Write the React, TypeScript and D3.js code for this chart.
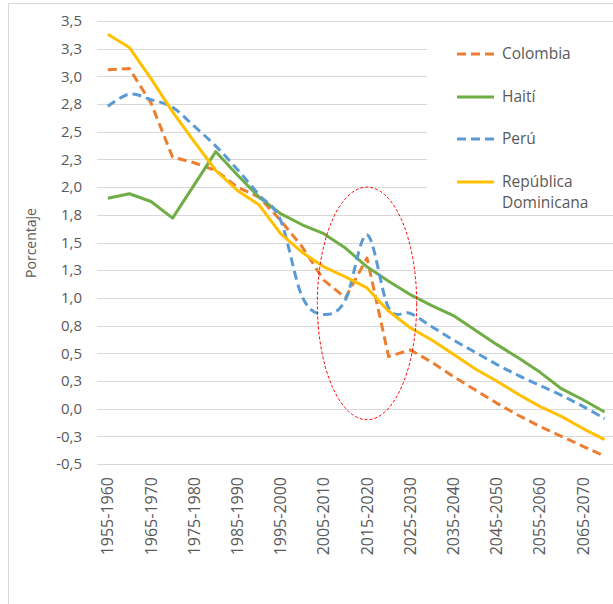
import React from 'react';
import * as d3 from 'd3';

const categories = [
  '1955-1960', '1960-1965', '1965-1970', '1970-1975', '1975-1980', '1980-1985',
  '1985-1990', '1990-1995', '1995-2000', '2000-2005', '2005-2010', '2010-2015',
  '2015-2020', '2020-2025', '2025-2030', '2030-2035', '2035-2040', '2040-2045',
  '2045-2050', '2050-2055', '2055-2060', '2060-2065', '2065-2070', '2070-2075',
];

const colombia = [3.06, 3.07, 2.76, 2.27, 2.22, 2.15, 2.0, 1.91, 1.7, 1.46, 1.16, 1.0,
  1.36, 0.47, 0.53, 0.42, 0.29, 0.17, 0.05, -0.06, -0.16, -0.25, -0.34, -0.43];
const haiti = [1.9, 1.94, 1.87, 1.72, 2.02, 2.32, 2.11, 1.91, 1.76, 1.66, 1.58, 1.45,
  1.28, 1.15, 1.03, 0.93, 0.84, 0.71, 0.58, 0.46, 0.33, 0.18, 0.08, -0.03];
const peru = [2.73, 2.84, 2.79, 2.72, 2.55, 2.37, 2.16, 1.93, 1.7, 1.01, 0.85, 0.98,
  1.57, 0.91, 0.86, 0.74, 0.62, 0.51, 0.4, 0.3, 0.21, 0.12, 0.02, -0.09];
const repDom = [3.38, 3.26, 2.98, 2.68, 2.41, 2.15, 1.97, 1.84, 1.58, 1.41, 1.28, 1.19,
  1.09, 0.88, 0.73, 0.62, 0.49, 0.36, 0.25, 0.13, 0.02, -0.07, -0.18, -0.28];

const yTickValues = [-0.5, -0.25, 0, 0.25, 0.5, 0.75, 1, 1.25, 1.5, 1.75, 2, 2.25, 2.5, 2.75, 3, 3.25, 3.5];
const yTickLabels = ['-0,5', '-0,3', '0,0', '0,3', '0,5', '0,8', '1,0', '1,3', '1,5', '1,8', '2,0', '2,3', '2,5', '2,8', '3,0', '3,3', '3,5'];

const seriesNames = ['Colombia', 'Haití', 'Perú', 'República Dominicana'];
const seriesColors = ['#ED7D31', '#70AD47', '#5B9BD5', '#FFC000'];
const seriesDashed = [true, false, true, false];
const seriesSmooth = [false, false, true, false];

// highlighted region (annotation): centred on 2015-2020, spanning values -0.1 .. 2.0
const highlightCategory = '2015-2020';
const highlightRange = [-0.1, 2.0];
const highlightHalfWidthCats = 2.3;

const W = 613;
const H = 604;
const plotLeft = 97;
const plotRight = 615.4;
const plotTop = 21;
const plotBottom = 464;

export default function App() {
  const data = [colombia, haiti, peru, repDom];
  const x = d3.scalePoint<string>().domain(categories).range([plotLeft, plotRight]).padding(0.5);
  const step = x.step();
  const y = d3.scaleLinear().domain([-0.5, 3.5]).range([plotBottom, plotTop]);
  const font = "'Open Sans', 'Segoe UI', sans-serif";
  const textColor = '#595959';

  const lineGen = (smooth: boolean) =>
    d3.line<number>()
      .x((_, i) => x(categories[i]) as number)
      .y((d) => y(d))
      .curve(smooth ? d3.curveCatmullRom.alpha(0) : d3.curveLinear);

  const legendY = [54, 97, 139, 182];
  const hcx = x(highlightCategory) as number;
  const hcy = (y(highlightRange[0]) + y(highlightRange[1])) / 2;
  const hry = (y(highlightRange[0]) - y(highlightRange[1])) / 2;
  const hrx = step * highlightHalfWidthCats;

  return (
    <svg width={W} height={H} style={{ position: 'absolute', left: 0, top: 0, background: '#fff' }}>
      <rect x={0} y={0} width={W} height={H} fill="#fff" />
      <path d={`M8.5,${H} V3.5 H${W}`} fill="none" stroke="#D9D9D9" strokeWidth={1} />
      {yTickValues.map((v, i) => {
        const yy = Math.round(y(v)) + 0.5;
        const legendBlock = yy > 30 && yy < 205;
        return (
          <line key={'g' + i} x1={plotLeft} x2={legendBlock ? 427 : W} y1={yy} y2={yy} stroke="#D9D9D9" strokeWidth={1} />
        );
      })}
      {yTickValues.map((v, i) => (
        <text key={'yl' + i} x={82} y={y(v)} dy="0.35em" textAnchor="end" fontFamily={font} fontSize={15} fill={textColor}>
          {yTickLabels[i]}
        </text>
      ))}
      {categories.map((c, i) =>
        i % 2 === 0 ? (
          <text key={'xl' + i} transform={`translate(${(x(c) as number) + 5.5},477) rotate(-90)`} textAnchor="end"
            fontFamily={font} fontSize={16} fill={textColor}>
            {c}
          </text>
        ) : null
      )}
      <text transform="translate(36,243) rotate(-90)" textAnchor="middle" fontFamily={font} fontSize={14} fill={textColor}>
        Porcentaje
      </text>
      {data.map((s, k) => (
        <path key={'s' + k} d={lineGen(seriesSmooth[k])(s) || ''} fill="none" stroke={seriesColors[k]}
          strokeWidth={3} strokeDasharray={seriesDashed[k] ? '9,5' : undefined} strokeLinejoin="round" />
      ))}
      {seriesNames.map((n, k) => (
        <g key={'lg' + k}>
          <line x1={457} x2={494} y1={legendY[k]} y2={legendY[k]} stroke={seriesColors[k]} strokeWidth={3}
            strokeDasharray={seriesDashed[k] ? '9,5' : undefined} />
          {k === 3 ? (
            <text x={502} y={legendY[k]} dy="0.35em" fontFamily={font} fontSize={15.5} fill={textColor}>
              <tspan x={502}>República</tspan>
              <tspan x={502} dy="21">Dominicana</tspan>
            </text>
          ) : (
            <text x={502} y={legendY[k]} dy="0.35em" fontFamily={font} fontSize={15.5} fill={textColor}>{n}</text>
          )}
        </g>
      ))}
      <ellipse cx={hcx} cy={hcy} rx={hrx} ry={hry} fill="none" stroke="#FF0000" strokeWidth={1} strokeDasharray="3,2" />
    </svg>
  );
}
